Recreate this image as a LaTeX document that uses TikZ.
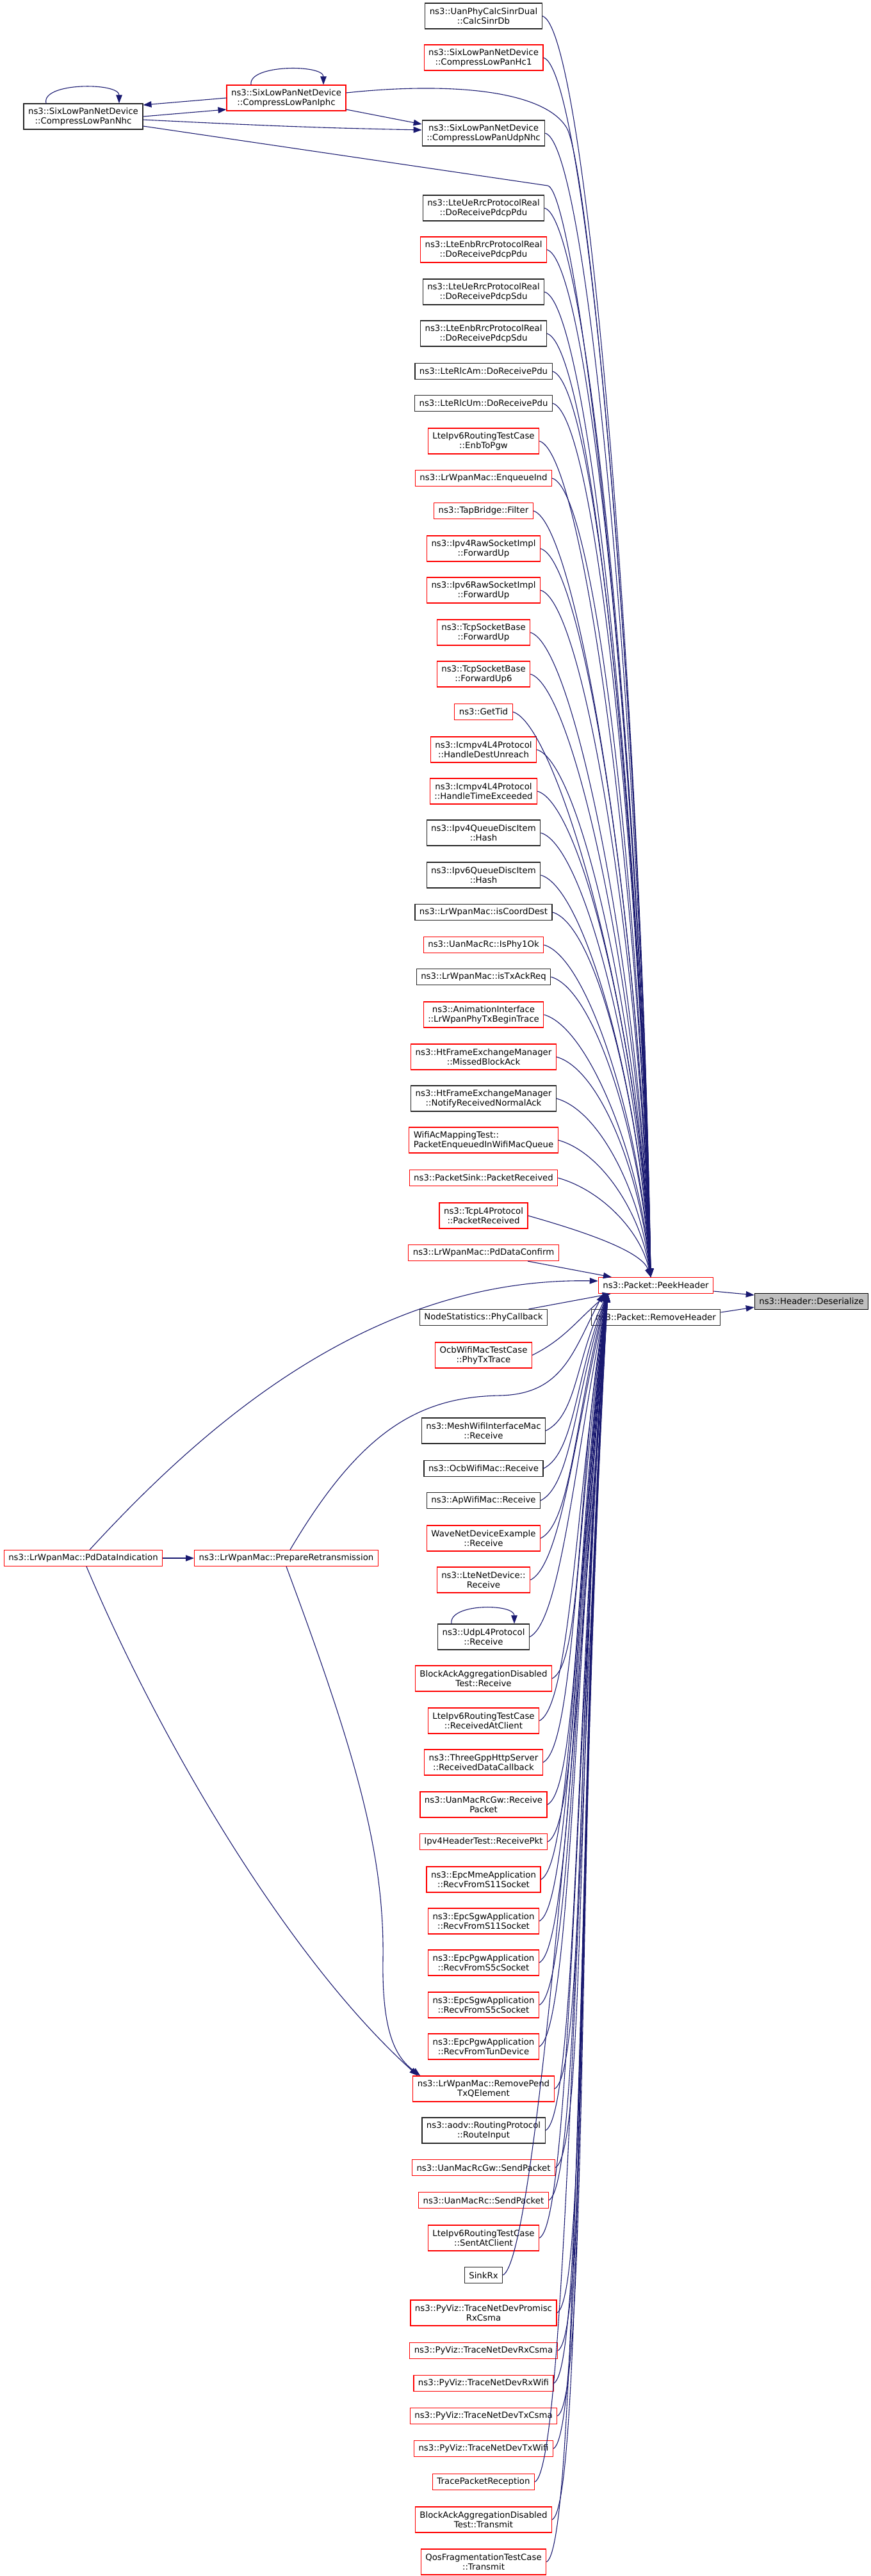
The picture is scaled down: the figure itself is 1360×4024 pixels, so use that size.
\documentclass[tikz,border=0pt]{standalone}
\usepackage{fontspec}
\setmainfont{DejaVu Sans}
\usetikzlibrary{arrows.meta,calc}
\definecolor{edgeblue}{HTML}{191970}
\definecolor{boxred}{HTML}{FF0000}

\begin{document}
\begin{tikzpicture}[x=1pt,y=-1pt,
	fn/.style={draw=boxred, line width=1.2pt, fill=white, font=\fontsize{13.3}{15.3}\selectfont, inner xsep=7pt, inner ysep=2pt, minimum height=25pt, align=center},
	fnk/.style={fn, draw=black!85},
	tall/.style={minimum height=40pt},
	call/.style={edgeblue, line width=1.1pt, -{Triangle[length=13pt,width=9.5pt]}}]
			\useasboundingbox (0,0) rectangle (1360,4024);
			
			% callee and the two at the right
			\node[fn] (P) at (1024,2008) {ns3::Packet::PeekHeader};
			\node[fnk] (R) at (1024,2058) {ns3::Packet::RemoveHeader};
			\node[fnk, fill=black!25, draw=black] (D) at (1267,2033) {ns3::Header::Deserialize};
			
			% left part
			\node[fnk,tall] (Nhc) at (130,182) {ns3::SixLowPanNetDevice\\::CompressLowPanNhc};
			\node[fn,tall] (Iphc) at (447,153) {ns3::SixLowPanNetDevice\\::CompressLowPanIphc};
			\node[fn] (PdI) at (130,2434) {ns3::LrWpanMac::PdDataIndication};
			\node[fn] (PrR) at (447,2434) {ns3::LrWpanMac::PrepareRetransmission};
			
			% callers above
			\node[fnk,tall] (C1) at (755,25) {ns3::UanPhyCalcSinrDual\\::CalcSinrDb};
			\node[fn,tall] (C2) at (755,90) {ns3::SixLowPanNetDevice\\::CompressLowPanHc1};
			\node[fnk,tall] (C3) at (755,208) {ns3::SixLowPanNetDevice\\::CompressLowPanUdpNhc};
			\node[fnk,tall] (C4) at (755,325) {ns3::LteUeRrcProtocolReal\\::DoReceivePdcpPdu};
			\node[fn,tall] (C5) at (755,390) {ns3::LteEnbRrcProtocolReal\\::DoReceivePdcpPdu};
			\node[fnk,tall] (C6) at (755,456) {ns3::LteUeRrcProtocolReal\\::DoReceivePdcpSdu};
			\node[fnk,tall] (C7) at (755,521) {ns3::LteEnbRrcProtocolReal\\::DoReceivePdcpSdu};
			\node[fnk] (C8) at (755,580) {ns3::LteRlcAm::DoReceivePdu};
			\node[fnk] (C9) at (755,630) {ns3::LteRlcUm::DoReceivePdu};
			\node[fn,tall] (C10) at (755,689) {LteIpv6RoutingTestCase\\::EnbToPgw};
			\node[fn] (C11) at (755,747) {ns3::LrWpanMac::EnqueueInd};
			\node[fn] (C12) at (755,798) {ns3::TapBridge::Filter};
			\node[fn,tall] (C13) at (755,857) {ns3::Ipv4RawSocketImpl\\::ForwardUp};
			\node[fn,tall] (C14) at (755,922) {ns3::Ipv6RawSocketImpl\\::ForwardUp};
			\node[fn,tall] (C15) at (755,988) {ns3::TcpSocketBase\\::ForwardUp};
			\node[fn,tall] (C16) at (755,1053) {ns3::TcpSocketBase\\::ForwardUp6};
			\node[fn] (C17) at (755,1112) {ns3::GetTid};
			\node[fn,tall] (C18) at (755,1171) {ns3::Icmpv4L4Protocol\\::HandleDestUnreach};
			\node[fn,tall] (C19) at (755,1236) {ns3::Icmpv4L4Protocol\\::HandleTimeExceeded};
			\node[fnk,tall] (C20) at (755,1301) {ns3::Ipv4QueueDiscItem\\::Hash};
			\node[fnk,tall] (C21) at (755,1367) {ns3::Ipv6QueueDiscItem\\::Hash};
			\node[fnk] (C22) at (755,1425) {ns3::LrWpanMac::isCoordDest};
			\node[fn] (C23) at (755,1476) {ns3::UanMacRc::IsPhy1Ok};
			\node[fnk] (C24) at (755,1526) {ns3::LrWpanMac::isTxAckReq};
			\node[fn,tall] (C25) at (755,1585) {ns3::AnimationInterface\\::LrWpanPhyTxBeginTrace};
			\node[fn,tall] (C26) at (755,1651) {ns3::HtFrameExchangeManager\\::MissedBlockAck};
			\node[fnk,tall] (C27) at (755,1716) {ns3::HtFrameExchangeManager\\::NotifyReceivedNormalAck};
			\node[fn,tall,align=left] (C28) at (755,1781) {WifiAcMappingTest::\\PacketEnqueuedInWifiMacQueue};
			\node[fn] (C29) at (755,1840) {ns3::PacketSink::PacketReceived};
			\node[fn,tall] (C30) at (755,1899) {ns3::TcpL4Protocol\\::PacketReceived};
			\node[fn] (C31) at (755,1957) {ns3::LrWpanMac::PdDataConfirm};
			
			% callers below
			\node[fnk] (C32) at (755,2058) {NodeStatistics::PhyCallback};
			\node[fn,tall] (C33) at (755,2117) {OcbWifiMacTestCase\\::PhyTxTrace};
			\node[fnk,tall] (C34) at (755,2235) {ns3::MeshWifiInterfaceMac\\::Receive};
			\node[fnk] (C35) at (755,2294) {ns3::OcbWifiMac::Receive};
			\node[fnk] (C36) at (755,2344) {ns3::ApWifiMac::Receive};
			\node[fn,tall] (C37) at (755,2403) {WaveNetDeviceExample\\::Receive};
			\node[fn,tall] (C38) at (755,2468) {ns3::LteNetDevice::\\Receive};
			\node[fnk,tall] (C39) at (755,2557) {ns3::UdpL4Protocol\\::Receive};
			\node[fn,tall] (C40) at (755,2622) {BlockAckAggregationDisabled\\Test::Receive};
			\node[fn,tall] (C41) at (755,2688) {LteIpv6RoutingTestCase\\::ReceivedAtClient};
			\node[fn,tall] (C42) at (755,2753) {ns3::ThreeGppHttpServer\\::ReceivedDataCallback};
			\node[fn,tall] (C43) at (755,2819) {ns3::UanMacRcGw::Receive\\Packet};
			\node[fn] (C44) at (755,2877) {Ipv4HeaderTest::ReceivePkt};
			\node[fn,tall] (C45) at (755,2936) {ns3::EpcMmeApplication\\::RecvFromS11Socket};
			\node[fn,tall] (C46) at (755,3001) {ns3::EpcSgwApplication\\::RecvFromS11Socket};
			\node[fn,tall] (C47) at (755,3066) {ns3::EpcPgwApplication\\::RecvFromS5cSocket};
			\node[fn,tall] (C48) at (755,3132) {ns3::EpcSgwApplication\\::RecvFromS5cSocket};
			\node[fn,tall] (C49) at (755,3197) {ns3::EpcPgwApplication\\::RecvFromTunDevice};
			\node[fn,tall] (C50) at (755,3263) {ns3::LrWpanMac::RemovePend\\TxQElement};
			\node[fnk,tall] (C51) at (755,3328) {ns3::aodv::RoutingProtocol\\::RouteInput};
			\node[fn] (C52) at (755,3386) {ns3::UanMacRcGw::SendPacket};
			\node[fn] (C53) at (755,3437) {ns3::UanMacRc::SendPacket};
			\node[fn,tall] (C54) at (755,3496) {LteIpv6RoutingTestCase\\::SentAtClient};
			\node[fnk] (C55) at (755,3554) {SinkRx};
			\node[fn,tall] (C56) at (755,3613) {ns3::PyViz::TraceNetDevPromisc\\RxCsma};
			\node[fn] (C57) at (755,3672) {ns3::PyViz::TraceNetDevRxCsma};
			\node[fn] (C58) at (755,3723) {ns3::PyViz::TraceNetDevRxWifi};
			\node[fn] (C59) at (755,3774) {ns3::PyViz::TraceNetDevTxCsma};
			\node[fn] (C60) at (755,3825) {ns3::PyViz::TraceNetDevTxWifi};
			\node[fn] (C61) at (755,3877) {TracePacketReception};
			\node[fn,tall] (C62) at (755,3936) {BlockAckAggregationDisabled\\Test::Transmit};
			\node[fn,tall] (C63) at (755,4002) {QosFragmentationTestCase\\::Transmit};
			
			% into PeekHeader
			\foreach \i in {1,...,30}
			\draw[call] (C\i.east) .. controls +(70,20) and ($(P.north)!.45!(P.north |- C\i.east)+(-23,0)$) .. ([xshift=-8pt]P.north);
			\foreach \i in {33,...,63}
			\draw[call] (C\i.east) .. controls +(50,-25) and ($(P.south)!.45!(P.south |- C\i.east)+(-125,0)$) .. ([xshift=-75pt]P.south);
			\draw[call] (C31) -- (P);
			\draw[call] (C32) -- (P);
			\draw[call] ([yshift=-9pt]P.east) -- ([yshift=10pt]D.west);
			\draw[call] ([yshift=8pt]R.east) -- ([yshift=-9pt]D.west);
			
			% top left
			\draw[call] ([xshift=-58pt]Nhc.north) .. controls +(-8,-33) and +(0,-33) .. ([xshift=56pt]Nhc.north);
			\draw[call] ([xshift=-55pt]Iphc.north) .. controls +(-5,-32) and +(0,-32) .. ([xshift=58pt]Iphc.north);
			\draw[call] (Iphc.west) -- ([yshift=18pt]Nhc.east);
			\draw[call] (Nhc.east) -- ([yshift=-18pt]Iphc.west);
			\draw[call] ([yshift=-18pt]Iphc.east) -- ([yshift=14pt]C3.west);
			\draw[call] ([yshift=-5pt]Nhc.east) .. controls +(200,10) and +(-150,-3) .. ([yshift=5pt]C3.west);
			\draw[call] ([yshift=-15pt]Nhc.east) -- (855,290) .. controls (900,297) and (1000,1150) .. ([xshift=-8pt]P.north);
			\draw[call] ([yshift=8pt]Iphc.east) .. controls (700,128) and (850,140) .. (885,200) .. controls (920,260) and (1003,1150) .. ([xshift=-8pt]P.north);
			
			% bottom left
			\draw[call] (PdI) -- (PrR);
			\draw[call] ([xshift=10pt]PdI.north) .. controls (320,2225) and (580,1995) .. ([yshift=7pt]P.west);
			\draw[call] ([xshift=6pt]PrR.north) .. controls (560,2240) and (650,2182) .. (780,2180) .. controls (880,2178) and (895,2110) .. ([xshift=-82pt]P.south);
			\draw[call] ([xshift=5pt]PdI.south) .. controls (250,2720) and (450,3060) .. ([xshift=8pt]C50.north west);
			\draw[call] (PrR.south) .. controls (560,2750) and (600,2900) .. (598,3060) .. controls (596,3180) and (620,3215) .. ([xshift=12pt]C50.north west);
			\draw[call] ([xshift=-50pt]C39.north) .. controls +(-5,-32) and +(0,-32) .. ([xshift=48pt]C39.north);
			
		\end{tikzpicture}
\end{document}
